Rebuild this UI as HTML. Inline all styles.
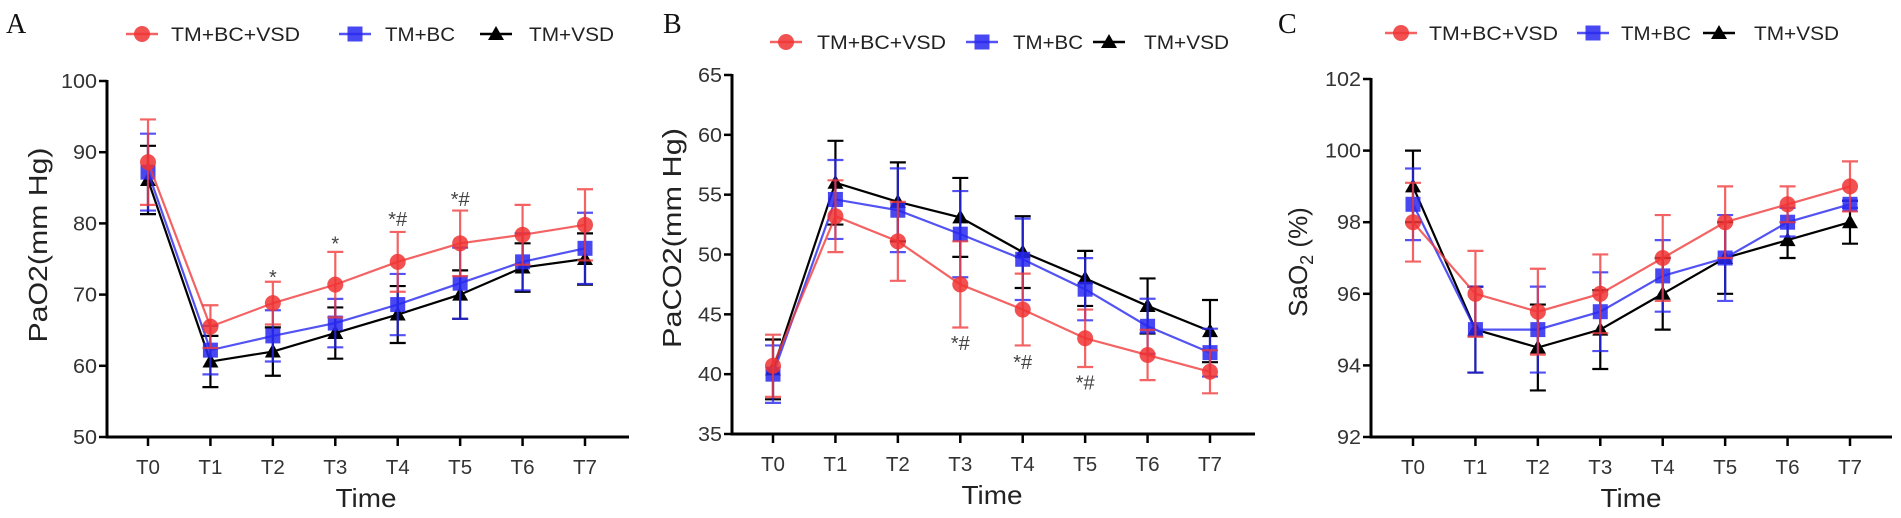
<!DOCTYPE html>
<html><head><meta charset="utf-8">
<style>
html,body{margin:0;padding:0;background:#fff;overflow:hidden;}
svg{display:block;font-family:"Liberation Sans",Arial,sans-serif;}
</style></head>
<body>
<svg id="fig" width="1901" height="518" viewBox="0 0 1901 518" xmlns="http://www.w3.org/2000/svg"></svg>
<script>
const categories = ["T0","T1","T2","T3","T4","T5","T6","T7"];
const seriesNames = ["TM+BC+VSD","TM+BC","TM+VSD"];
// Panel A PaO2
const aRed = [88.6,65.5,68.8,71.4,74.6,77.2,78.4,79.8];
const aRedErr = [6,3,3,4.6,4.2,4.6,4.2,5];
const aBlue = [87.2,62.2,64.2,66.0,68.6,71.6,74.6,76.5];
const aBlueErr = [5.4,3.4,3.6,3.4,4.3,5,4,5];
const aBlack = [86.1,60.6,62.0,64.6,67.2,70.0,73.8,75.0];
const aBlackErr = [4.8,3.6,3.4,3.6,4,3.4,3.4,3.6];
const aTicks = [50,60,70,80,90,100];
const aNotes = [[2,"*",72.5],[3,"*",77.2],[4,"*#",80.6],[5,"*#",83.4]];
// Panel B PaCO2
const bRed = [40.7,53.2,51.1,47.5,45.4,43.0,41.6,40.2];
const bRedErr = [2.6,3,3.3,3.6,3,2.4,2.1,1.8];
const bBlue = [40.0,54.6,53.7,51.7,49.6,47.1,44.0,41.8];
const bBlueErr = [2.4,3.3,3.5,3.6,3.4,2.6,2.3,2];
const bBlack = [40.4,56.0,54.4,53.1,50.2,48.0,45.7,43.6];
const bBlackErr = [2.5,3.5,3.3,3.3,3,2.3,2.3,2.6];
const bTicks = [35,40,45,50,55,60,65];
const bNotes = [[3,"*#",42.6],[4,"*#",41.0],[5,"*#",39.3]];
// Panel C SaO2
const cRed = [98,96,95.5,96,97,98,98.5,99];
const cRedErr = [1.1,1.2,1.2,1.1,1.2,1,0.5,0.7];
const cBlue = [98.5,95,95,95.5,96.5,97,98,98.5];
const cBlueErr = [1,1.2,1.2,1.1,1,1.2,0.4,0.1];
const cBlack = [99,95,94.5,95,96,97,97.5,98];
const cBlackErr = [1,1.2,1.2,1.1,1,1,0.5,0.6];
const cTicks = [92,94,96,98,100,102];

const NS="http://www.w3.org/2000/svg";
const svg=document.getElementById('fig');
function mk(tag,attrs,parent,text){const e=document.createElementNS(NS,tag);for(const k in attrs)e.setAttribute(k,attrs[k]);if(text!==undefined)e.textContent=text;(parent||svg).appendChild(e);return e;}
const COLORS=["rgba(240,50,50,0.85)","rgba(40,40,240,0.85)","#000"];
const LINEC=["rgba(240,60,60,0.8)","rgba(40,40,240,0.8)","#000"];

function marker(g,k,x,y,name){
  let m;
  if(k===0){m=mk('circle',{cx:x,cy:y,r:8,fill:COLORS[0]},g);}
  else if(k===1){m=mk('rect',{x:x-7.5,y:y-7.5,width:15,height:15,fill:COLORS[1]},g);}
  else {m=mk('polygon',{points:`${x},${y-8} ${x-8},${y+6} ${x+8},${y+6}`,fill:COLORS[2]},g);}
  
  
}

function panel(cfg){
  const g=mk('g',{});
  
  
  const y=v=>cfg.yTop+(cfg.ymax-v)/(cfg.ymax-cfg.ymin)*(cfg.yBot-cfg.yTop);
  const x=i=>cfg.x0+i*(cfg.x7-cfg.x0)/(categories.length-1);
  const L=mk('text',{x:cfg.letterX,y:cfg.letterY,'font-family':'"Liberation Serif",serif','font-size':28,fill:'#111'},g,cfg.letter);
  
  cfg.legend.forEach((lg,k)=>{
    const lgG=mk('g',{},g);
    
    
    mk('line',{x1:lg[0]-16,x2:lg[0]+16,y1:cfg.legY,y2:cfg.legY,stroke:LINEC[k],'stroke-width':2.5},lgG);
    marker(lgG,k,lg[0],cfg.legY,'legend-marker');
    mk('text',{x:lg[1],y:cfg.legY+7,'font-size':19,fill:'#222',textLength:lg[2],lengthAdjust:'spacingAndGlyphs'},lgG,seriesNames[k]);
  });
  const ax=mk('path',{d:`M${cfg.axX},${cfg.yTop-1} V${cfg.yBot} H${cfg.axEnd}`,stroke:'#000','stroke-width':3,fill:'none'},g);
  
  cfg.ticks.forEach(t=>{
    mk('line',{x1:cfg.axX-8,x2:cfg.axX,y1:y(t),y2:y(t),stroke:'#000','stroke-width':2.5},g);
    const w=String(t).length*12;
    const tl=mk('text',{x:cfg.axX-10,y:y(t)+7,'text-anchor':'end','font-size':20,fill:'#333',textLength:w,lengthAdjust:'spacingAndGlyphs'},g,t);
    
  });
  categories.forEach((c,i)=>{
    mk('line',{x1:x(i),x2:x(i),y1:cfg.yBot,y2:cfg.yBot+9,stroke:'#000','stroke-width':2.5},g);
    const tl=mk('text',{x:x(i),y:cfg.yBot+37,'text-anchor':'middle','font-size':20,fill:'#333',textLength:24,lengthAdjust:'spacingAndGlyphs'},g,c);
    
  });
  const xt=mk('text',{x:cfg.timeX,y:cfg.yBot+70,'text-anchor':'middle','font-size':26,fill:'#222',textLength:61,lengthAdjust:'spacingAndGlyphs'},g,'Time');
  
  const yt=mk('text',{x:0,y:0,'text-anchor':'middle','font-size':26,fill:'#222',transform:`translate(${cfg.ylabX},${cfg.ylabY}) rotate(-90)`},g);
  
  if(cfg.ylab==='SaO2'){yt.textContent='SaO';mk('tspan',{'font-size':18,dy:6},yt,'2');mk('tspan',{dy:-6},yt,' (%)');}
  else {yt.textContent=cfg.ylab;yt.setAttribute('textLength',cfg.ylabLen);yt.setAttribute('lengthAdjust','spacingAndGlyphs');}
  [2,1,0].forEach(k=>{
    const vals=cfg.data[k],errs=cfg.errs[k];
    const sg=mk('g',{},g);
    
    
    vals.forEach((v,i)=>{
      const e=errs[i];
      const eb=mk('path',{d:`M${x(i)},${y(v+e)} V${y(v-e)} M${x(i)-8},${y(v+e)} H${x(i)+8} M${x(i)-8},${y(v-e)} H${x(i)+8}`,stroke:LINEC[k],'stroke-width':2.2,fill:'none'},sg);
      
    });
    const ln=mk('polyline',{points:vals.map((v,i)=>x(i)+','+y(v)).join(' '),stroke:LINEC[k],'stroke-width':2.2,fill:'none'},sg);
    
    vals.forEach((v,i)=>marker(sg,k,x(i),y(v),'point-'+categories[i].toLowerCase()));
  });
  (cfg.notes||[]).forEach(n=>{
    const t=mk('text',{x:x(n[0]),y:y(n[2])+7,'text-anchor':'middle','font-size':20,fill:'#444'},g,n[1]);
    
  });
}

panel({name:'panel-a-pao2',letter:'A',letterX:6,letterY:33,legY:34,legend:[[142,171,129],[355,385,70],[496,529,85]],
  axX:107,axEnd:629,yTop:81,yBot:437,ymin:50,ymax:100,ticks:aTicks,x0:148,x7:585,timeX:366,ylabX:47,ylabY:245,ylabLen:195,ylab:'PaO2(mm Hg)',
  data:[aRed,aBlue,aBlack],errs:[aRedErr,aBlueErr,aBlackErr],notes:aNotes});
panel({name:'panel-b-paco2',letter:'B',letterX:663,letterY:33,legY:42,legend:[[786,817,129],[982,1013,70],[1109,1144,85]],
  axX:732,axEnd:1255,yTop:75,yBot:434,ymin:35,ymax:65,ticks:bTicks,x0:773,x7:1210,timeX:992,ylabX:681,ylabY:238,ylabLen:220,ylab:'PaCO2(mm Hg)',
  data:[bRed,bBlue,bBlack],errs:[bRedErr,bBlueErr,bBlackErr],notes:bNotes});
panel({name:'panel-c-sao2',letter:'C',letterX:1278,letterY:33,legY:33,legend:[[1401,1429,129],[1593,1621,70],[1719,1754,85]],
  axX:1371,axEnd:1892,yTop:79,yBot:437,ymin:92,ymax:102,ticks:cTicks,x0:1413,x7:1850,timeX:1631,ylabX:1307,ylabY:262,ylab:'SaO2',
  data:[cRed,cBlue,cBlack],errs:[cRedErr,cBlueErr,cBlackErr]});
</script>
</body></html>
